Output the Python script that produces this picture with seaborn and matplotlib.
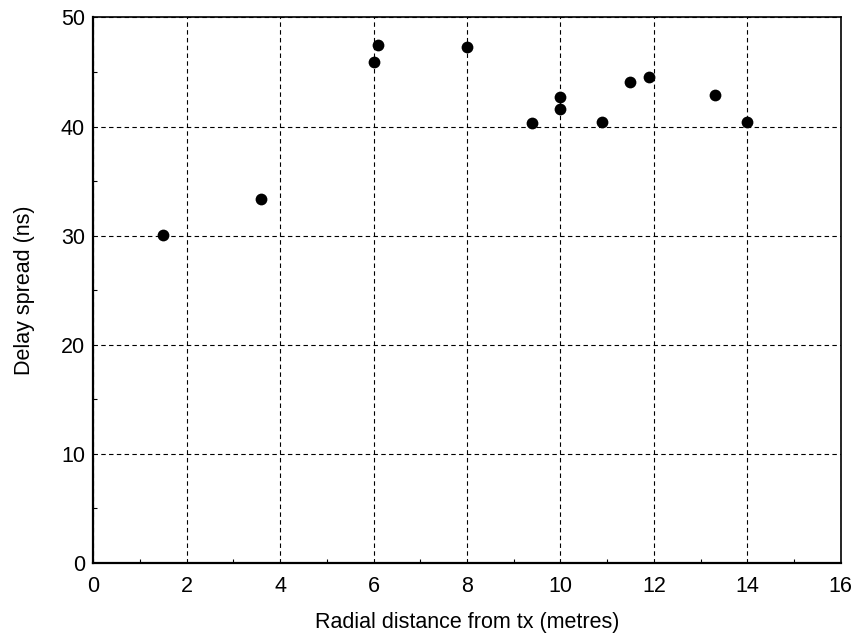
import pandas as pd
import matplotlib.pyplot as plt
import seaborn as sns
from matplotlib.ticker import MultipleLocator

# Dados
distance = [1.5, 3.6, 6.0, 6.1, 8.0, 9.4, 10.0, 10.0, 10.9, 11.5, 11.9, 13.3, 14.0]
delay_spread = [30.1, 33.4, 45.9, 47.5, 47.3, 40.3, 42.7, 41.6, 40.4, 44.1, 44.5, 42.9, 40.4]

x_label = "Radial distance from tx (metres)"
y_label = "Delay spread (ns)"

sns.set_theme(style="white")
plt.rcParams["font.family"] = ["Liberation Sans", "DejaVu Sans"]
plt.rcParams["text.color"] = "black"
plt.rcParams["axes.labelcolor"] = "black"

df = pd.DataFrame({"distance": distance, "delay": delay_spread})

fig = plt.figure(figsize=(8.52, 6.4), dpi=100)
ax = fig.add_axes([0.1095, 0.1203, 0.8772, 0.8524])

sns.scatterplot(data=df, x="distance", y="delay", ax=ax, color="black",
                s=72, edgecolor="black", linewidth=0, zorder=3)

ax.set_xlim(0, 16)
ax.set_ylim(0, 50)
ax.xaxis.set_major_locator(MultipleLocator(2))
ax.xaxis.set_minor_locator(MultipleLocator(1))
ax.yaxis.set_major_locator(MultipleLocator(10))
ax.yaxis.set_minor_locator(MultipleLocator(5))

ax.grid(True, which="major", color="black", linestyle=(0, (4, 3)), linewidth=0.8)
ax.tick_params(which="major", direction="in", length=0, labelsize=15.5, colors="black", pad=6)
ax.tick_params(axis="x", which="major", pad=9)
ax.tick_params(which="minor", direction="in", length=3, width=0.8, colors="black")
ax.tick_params(axis="both", which="both", top=False, right=False, bottom=True, left=True)

for side in ["left", "bottom"]:
    ax.spines[side].set_linewidth(1.6)
    ax.spines[side].set_color("black")
for side in ["top", "right"]:
    ax.spines[side].set_linewidth(1.2)
    ax.spines[side].set_color("black")

ax.set_xlabel(x_label, fontsize=15.5, color="black")
ax.set_ylabel(y_label, fontsize=15.5, color="black")
ax.xaxis.set_label_coords(0.5, -0.09)
ax.yaxis.set_label_coords(-0.078, 0.5)

plt.savefig("out.png", dpi=100)
